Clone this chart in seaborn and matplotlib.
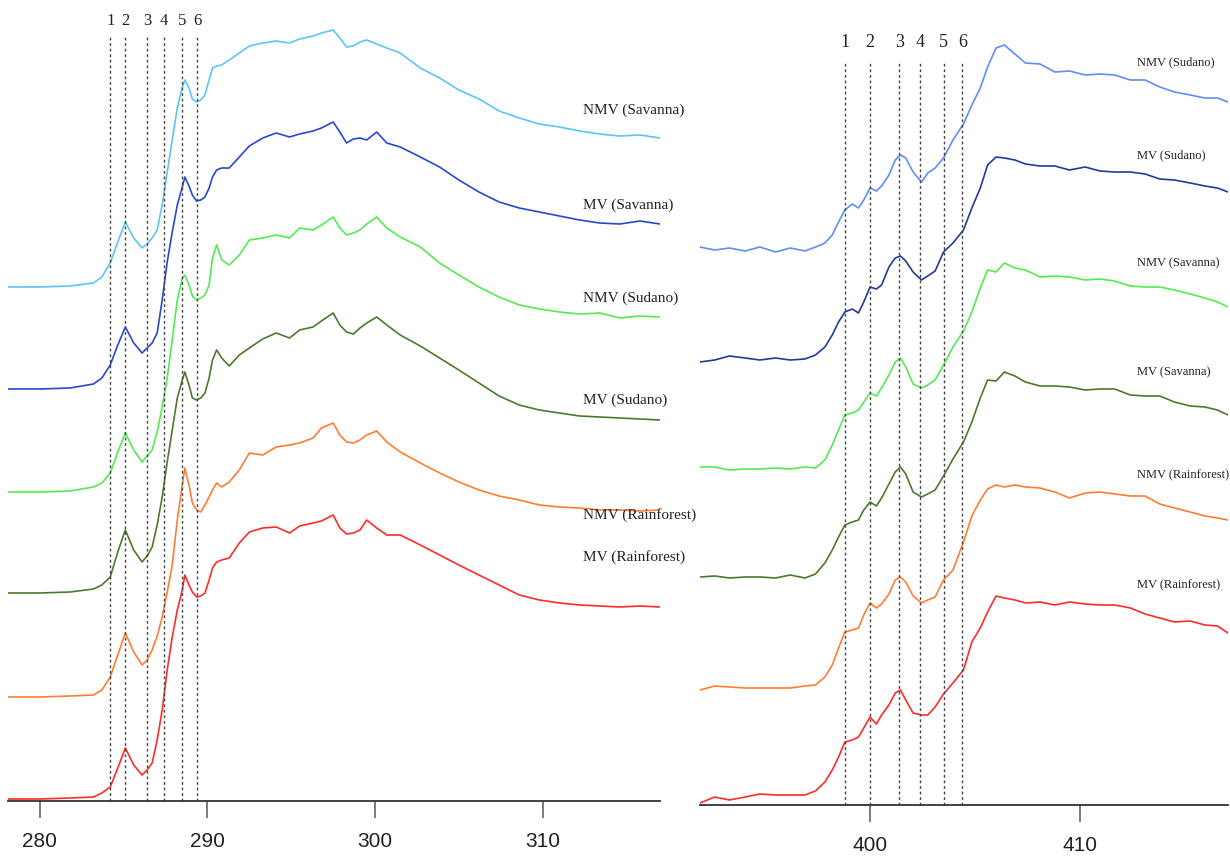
import numpy as np
import pandas as pd
import matplotlib
matplotlib.use('Agg')
import matplotlib.pyplot as plt
from matplotlib.ticker import MultipleLocator
import seaborn as sns

# C K-edge spectra (left panel), stacked intensity in a.u.
c_energy = [278.1, 280.0, 281.8, 283.2, 283.7, 284.2, 284.65, 285.1, 285.6, 286.1,
            286.4, 286.7, 287.0, 287.3, 287.6, 287.9, 288.2, 288.5, 288.65, 288.9,
            289.1, 289.35, 289.6, 289.85, 290.1, 290.3, 290.55, 290.85, 291.3, 291.9,
            292.5, 293.3, 294.1, 294.9, 295.5, 296.3, 296.8, 297.5, 297.9, 298.3,
            298.7, 299.1, 299.5, 300.1, 300.7, 301.5, 302.7, 303.85, 305.0, 306.2,
            307.4, 308.6, 309.8, 311.0, 312.2, 313.4, 314.6, 315.8, 317.0]
c_nmv_sav = [5.14, 5.14, 5.15, 5.18, 5.24, 5.38, 5.59, 5.79, 5.63, 5.53,
             5.57, 5.63, 5.71, 5.96, 6.29, 6.61, 6.93, 7.14, 7.21, 7.13,
             7.02, 6.99, 7.01, 7.06, 7.21, 7.33, 7.35, 7.36, 7.41, 7.48,
             7.55, 7.58, 7.60, 7.58, 7.62, 7.65, 7.68, 7.71, 7.63, 7.54,
             7.55, 7.59, 7.61, 7.57, 7.53, 7.48, 7.33, 7.23, 7.11, 7.02,
             6.90, 6.83, 6.77, 6.74, 6.70, 6.67, 6.65, 6.66, 6.63]
c_mv_sav = [4.12, 4.12, 4.13, 4.17, 4.23, 4.36, 4.56, 4.74, 4.58, 4.48,
            4.53, 4.58, 4.68, 5.01, 5.39, 5.69, 5.96, 6.14, 6.24, 6.15,
            6.06, 6.00, 6.01, 6.04, 6.13, 6.24, 6.31, 6.33, 6.33, 6.44,
            6.55, 6.63, 6.68, 6.64, 6.67, 6.70, 6.73, 6.79, 6.69, 6.58,
            6.62, 6.63, 6.61, 6.69, 6.58, 6.54, 6.44, 6.34, 6.21, 6.09,
            5.99, 5.93, 5.89, 5.85, 5.81, 5.78, 5.77, 5.80, 5.77]
c_nmv_sud = [3.09, 3.09, 3.10, 3.14, 3.18, 3.28, 3.49, 3.68, 3.51, 3.39,
             3.45, 3.51, 3.69, 3.94, 4.23, 4.61, 5.01, 5.23, 5.26, 5.16,
             5.05, 5.01, 5.03, 5.06, 5.16, 5.43, 5.56, 5.41, 5.36, 5.46,
             5.61, 5.63, 5.66, 5.63, 5.73, 5.71, 5.76, 5.84, 5.73, 5.66,
             5.68, 5.71, 5.77, 5.84, 5.73, 5.64, 5.54, 5.38, 5.26, 5.14,
             5.04, 4.96, 4.92, 4.89, 4.87, 4.88, 4.83, 4.85, 4.84]
c_mv_sud = [2.08, 2.08, 2.09, 2.12, 2.16, 2.24, 2.49, 2.71, 2.51, 2.39,
            2.45, 2.54, 2.76, 3.04, 3.39, 3.71, 4.03, 4.21, 4.29, 4.16,
            4.03, 4.01, 4.03, 4.08, 4.23, 4.41, 4.51, 4.43, 4.35, 4.46,
            4.53, 4.62, 4.68, 4.63, 4.71, 4.74, 4.80, 4.88, 4.76, 4.69,
            4.67, 4.73, 4.78, 4.84, 4.76, 4.66, 4.55, 4.43, 4.31, 4.18,
            4.05, 3.96, 3.91, 3.88, 3.85, 3.84, 3.83, 3.82, 3.81]
c_nmv_rf = [1.04, 1.04, 1.05, 1.06, 1.11, 1.24, 1.46, 1.68, 1.49, 1.36,
            1.41, 1.51, 1.65, 1.84, 2.09, 2.36, 2.81, 3.16, 3.33, 3.16,
            2.98, 2.91, 2.89, 2.96, 3.04, 3.11, 3.18, 3.14, 3.19, 3.31,
            3.48, 3.46, 3.54, 3.56, 3.58, 3.63, 3.73, 3.78, 3.66, 3.59,
            3.58, 3.61, 3.66, 3.70, 3.59, 3.49, 3.38, 3.28, 3.19, 3.11,
            3.05, 3.01, 2.96, 2.94, 2.93, 2.91, 2.91, 2.90, 2.91]
c_mv_rf = [0.02, 0.02, 0.03, 0.04, 0.08, 0.14, 0.33, 0.53, 0.36, 0.26,
           0.31, 0.38, 0.61, 0.91, 1.31, 1.64, 1.91, 2.11, 2.26, 2.16,
           2.09, 2.04, 2.05, 2.08, 2.21, 2.33, 2.39, 2.41, 2.43, 2.58,
           2.69, 2.73, 2.74, 2.68, 2.75, 2.78, 2.80, 2.86, 2.73, 2.67,
           2.68, 2.71, 2.81, 2.73, 2.66, 2.66, 2.56, 2.46, 2.36, 2.26,
           2.16, 2.06, 2.01, 1.98, 1.96, 1.95, 1.94, 1.95, 1.94]
c_peaks = [284.2, 285.1, 286.4, 287.4, 288.5, 289.4]

# N K-edge spectra (right panel)
n_energy = [391.9, 392.6, 393.3, 394.05, 394.75, 395.5, 396.2, 396.9, 397.4, 397.85,
            398.2, 398.5, 398.8, 399.15, 399.45, 399.7, 400.0, 400.3, 400.55, 400.9,
            401.2, 401.45, 401.7, 402.05, 402.45, 402.75, 403.1, 403.5, 403.95, 404.45,
            404.85, 405.25, 405.6, 406.0, 406.4, 406.9, 407.4, 408.1, 408.8, 409.5,
            410.25, 410.95, 411.65, 412.4, 413.1, 413.8, 414.5, 415.25, 415.95, 416.55,
            417.05]
n_nmv_sud = [5.58, 5.55, 5.57, 5.54, 5.58, 5.53, 5.57, 5.54, 5.58, 5.62,
             5.70, 5.83, 5.95, 6.01, 5.97, 6.05, 6.17, 6.14, 6.19, 6.30,
             6.45, 6.50, 6.47, 6.33, 6.23, 6.32, 6.37, 6.47, 6.65, 6.81,
             7.00, 7.17, 7.38, 7.57, 7.60, 7.51, 7.42, 7.41, 7.33, 7.34,
             7.30, 7.31, 7.30, 7.25, 7.25, 7.18, 7.13, 7.10, 7.07, 7.07,
             7.03]
n_mv_sud = [4.43, 4.45, 4.49, 4.47, 4.45, 4.47, 4.45, 4.46, 4.50, 4.58,
            4.70, 4.83, 4.93, 4.96, 4.92, 5.03, 5.18, 5.16, 5.20, 5.38,
            5.47, 5.49, 5.44, 5.33, 5.25, 5.29, 5.34, 5.53, 5.62, 5.75,
            5.97, 6.17, 6.40, 6.48, 6.47, 6.45, 6.41, 6.39, 6.39, 6.35,
            6.38, 6.34, 6.33, 6.33, 6.31, 6.26, 6.25, 6.22, 6.19, 6.17,
            6.13]
n_nmv_sav = [3.38, 3.38, 3.35, 3.36, 3.36, 3.37, 3.36, 3.38, 3.37, 3.45,
             3.60, 3.75, 3.90, 3.92, 3.95, 4.03, 4.12, 4.09, 4.17, 4.30,
             4.43, 4.47, 4.38, 4.21, 4.17, 4.20, 4.25, 4.40, 4.58, 4.74,
             4.93, 5.17, 5.35, 5.33, 5.42, 5.37, 5.35, 5.28, 5.29, 5.28,
             5.25, 5.26, 5.24, 5.19, 5.18, 5.18, 5.15, 5.11, 5.07, 5.03,
             4.98]
n_mv_sav = [2.28, 2.29, 2.27, 2.28, 2.28, 2.27, 2.30, 2.27, 2.31, 2.42,
            2.55, 2.68, 2.80, 2.83, 2.85, 2.95, 3.03, 2.99, 3.07, 3.21,
            3.33, 3.38, 3.31, 3.13, 3.08, 3.11, 3.15, 3.29, 3.46, 3.63,
            3.83, 4.07, 4.25, 4.24, 4.33, 4.29, 4.23, 4.19, 4.19, 4.18,
            4.15, 4.16, 4.16, 4.10, 4.09, 4.09, 4.03, 3.99, 3.98, 3.95,
            3.90]
n_nmv_rf = [1.15, 1.19, 1.18, 1.17, 1.17, 1.17, 1.17, 1.19, 1.20, 1.28,
            1.40, 1.57, 1.73, 1.75, 1.77, 1.90, 2.02, 1.97, 2.01, 2.11,
            2.25, 2.28, 2.23, 2.09, 2.02, 2.05, 2.08, 2.25, 2.35, 2.63,
            2.89, 3.05, 3.16, 3.20, 3.18, 3.20, 3.18, 3.17, 3.13, 3.07,
            3.12, 3.13, 3.11, 3.09, 3.09, 3.01, 2.97, 2.93, 2.89, 2.87,
            2.85]
n_mv_rf = [0.02, 0.08, 0.05, 0.08, 0.11, 0.10, 0.10, 0.10, 0.14, 0.23,
           0.35, 0.48, 0.63, 0.65, 0.68, 0.77, 0.88, 0.81, 0.90, 1.00,
           1.12, 1.15, 1.05, 0.92, 0.90, 0.90, 0.98, 1.11, 1.22, 1.35,
           1.63, 1.77, 1.93, 2.09, 2.07, 2.05, 2.02, 2.03, 2.00, 2.03,
           2.01, 2.00, 2.00, 1.97, 1.91, 1.87, 1.83, 1.84, 1.80, 1.79,
           1.72]
n_peaks = [398.8, 400.0, 401.4, 402.4, 403.5, 404.4]

c_names = ['NMV (Savanna)', 'MV (Savanna)', 'NMV (Sudano)', 'MV (Sudano)',
           'NMV (Rainforest)', 'MV (Rainforest)']
n_names = ['NMV (Sudano)', 'MV (Sudano)', 'NMV (Savanna)', 'MV (Savanna)',
           'NMV (Rainforest)', 'MV (Rainforest)']
c_colors = ['#5cc6f2', '#2748cf', '#52ec52', '#4b7a2c', '#ff7d33', '#ff2b2b']
n_colors = ['#5f8ef5', '#1f3b9b', '#52ec52', '#4b7a2c', '#ff7d33', '#ff2b2b']

sns.set_style('white')
plt.rcParams['font.family'] = ['Liberation Serif', 'DejaVu Serif']

fig = plt.figure(figsize=(12.3, 8.6), dpi=100)
ax1 = fig.add_axes([8 / 1230, 59 / 860, 652 / 1230, 801 / 860])
ax2 = fig.add_axes([700 / 1230, 55 / 860, 528 / 1230, 805 / 860])


def draw_panel(ax, energy, curves, names, colors, peaks, xlim, ytop,
               label_x, label_y, label_size, line_top, num_y, num_size):
    df = pd.DataFrame({'energy': np.tile(energy, len(curves)),
                       'intensity': np.concatenate(curves),
                       'sample': np.repeat(names, len(energy))})
    sns.lineplot(data=df, x='energy', y='intensity', hue='sample',
                 hue_order=names, palette=colors, estimator=None,
                 sort=False, legend=False, lw=1.2, ax=ax)
    ax.vlines(peaks, 0, line_top, colors='#444444', linestyles=(0, (2, 2)), lw=1.0)
    for i, p in enumerate(peaks):
        ax.text(p, num_y, str(i + 1), ha='center', va='center',
                fontsize=num_size, color='#222222')
    for nm, ly in zip(names, label_y):
        ax.text(label_x, ly, nm, ha='left', va='center',
                fontsize=label_size, color='#222222')
    ax.set_xlim(*xlim)
    ax.set_ylim(0, ytop)
    ax.set_xlabel('')
    ax.set_ylabel('')
    ax.set_yticks([])
    ax.xaxis.set_major_locator(MultipleLocator(10))
    sns.despine(ax=ax, left=True)
    ax.spines['bottom'].set_color('#333333')
    ax.spines['bottom'].set_linewidth(1.3)
    ax.tick_params(axis='x', bottom=True, direction='out', length=12, width=1.2,
                   color='#666666', pad=10, labelsize=15, labelcolor='#222222')
    for t in ax.get_xticklabels():
        t.set_family(['Liberation Sans Narrow', 'Liberation Sans', 'DejaVu Sans'])


draw_panel(ax1, c_energy, [c_nmv_sav, c_mv_sav, c_nmv_sud, c_mv_sud, c_nmv_rf, c_mv_rf],
           c_names, c_colors, c_peaks, (278.1, 317.0), 8.01,
           312.4, [6.91, 5.96, 5.03, 4.01, 2.86, 2.44], 11, 7.64, 7.80, 12)
draw_panel(ax2, n_energy, [n_nmv_sud, n_mv_sud, n_nmv_sav, n_mv_sav, n_nmv_rf, n_mv_rf],
           n_names, n_colors, n_peaks, (391.9, 417.05), 8.05,
           412.7, [7.43, 6.50, 5.42, 4.33, 3.30, 2.20], 9, 7.43, 7.63, 13)

fig.savefig('out.png', dpi=100)
